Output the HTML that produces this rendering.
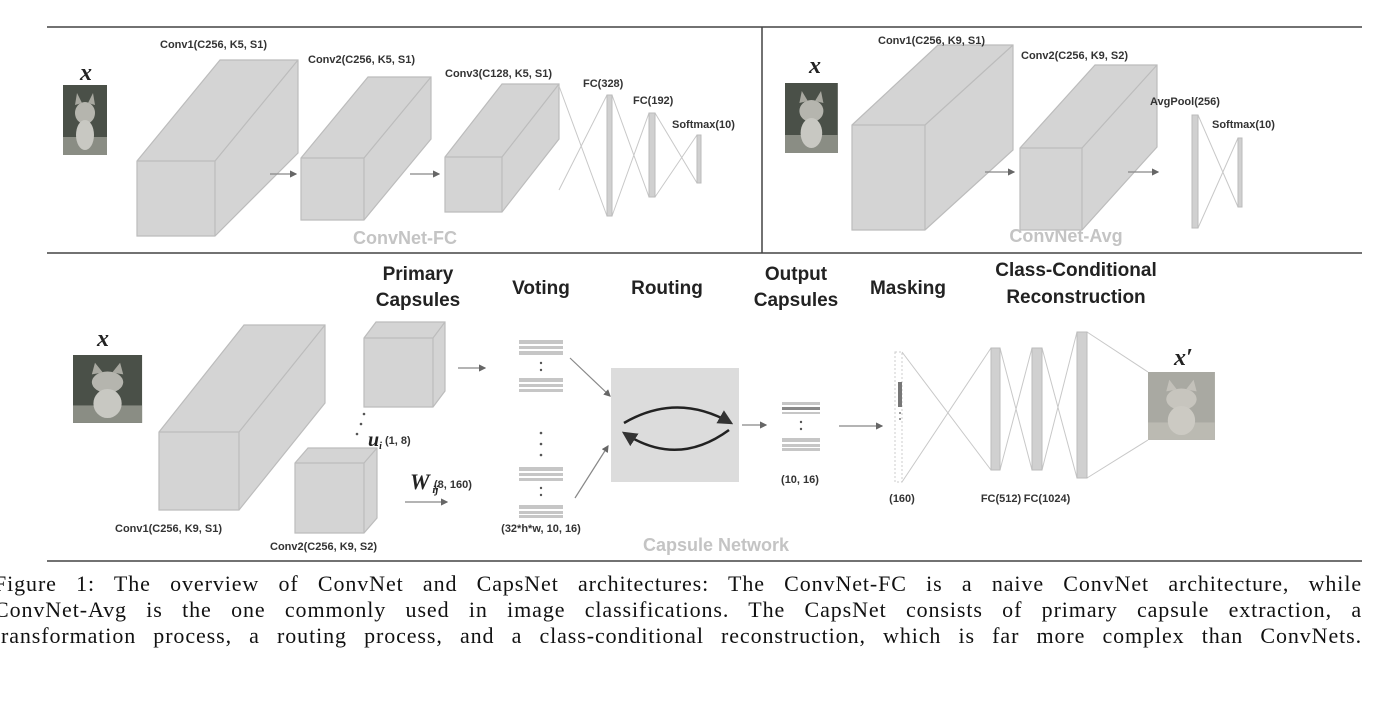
<!DOCTYPE html>
<html><head><meta charset="utf-8"><style>
body{margin:0;background:#fff;width:1400px;height:701px;overflow:hidden;position:relative}
svg{position:absolute;left:0;top:0}
.cap{position:absolute;left:-6px;width:1368px;font-family:"Liberation Serif",serif;font-size:22px;letter-spacing:0.9px;color:#111;text-align:justify;text-align-last:justify;white-space:nowrap;line-height:26px}
</style></head><body>
<svg width="1400" height="701" viewBox="0 0 1400 701" font-family="Liberation Sans, sans-serif">
<defs>
<marker id="ar" markerWidth="6" markerHeight="6" refX="5" refY="3" orient="auto"><path d="M0,0 L6,3 L0,6z" fill="#666"/></marker>
<marker id="ak" markerWidth="6" markerHeight="6" refX="5" refY="3" orient="auto"><path d="M0,0 L6,3 L0,6z" fill="#333"/></marker>
<g id="cat">
<rect x="0" y="0" width="44" height="70" fill="#4a5048"/>
<rect x="0" y="52" width="44" height="18" fill="#8a8d84"/>
<ellipse cx="22" cy="28" rx="10" ry="11" fill="#b5b5ae"/>
<ellipse cx="22" cy="50" rx="9" ry="15" fill="#c8c8c2"/>
<path d="M12,20 L14,8 L19,18 M25,18 L30,8 L32,20" fill="#a8a8a0"/>
</g>
</defs>
<line x1="47" y1="27" x2="1362" y2="27" stroke="#444" stroke-width="1.5"/>
<line x1="47" y1="253" x2="1362" y2="253" stroke="#444" stroke-width="1.5"/>
<line x1="47" y1="561" x2="1362" y2="561" stroke="#444" stroke-width="1.5"/>
<line x1="762" y1="27" x2="762" y2="253" stroke="#444" stroke-width="1.5"/>

<g fill="#d4d4d4" stroke="#bcbcbc" stroke-width="1.2">
<path d="M137,161 L220,60 L298,60 L298,153 L215,236 L137,236Z"/><path d="M137,161 L215,161 L298,60 M215,161 L215,236" fill="none"/>
<path d="M301,158 L368,77 L431,77 L431,139 L364,220 L301,220Z"/><path d="M301,158 L364,158 L431,77 M364,158 L364,220" fill="none"/>
<path d="M445,157 L502,84 L559,84 L559,139 L502,212 L445,212Z"/><path d="M445,157 L502,157 L559,84 M502,157 L502,212" fill="none"/>
<path d="M852,125 L938,45 L1013,45 L1013,150 L925,230 L852,230Z"/><path d="M852,125 L925,125 L1013,45 M925,125 L925,230" fill="none"/>
<path d="M1020,148 L1095,65 L1157,65 L1157,147 L1082,230 L1020,230Z"/><path d="M1020,148 L1082,148 L1157,65 M1082,148 L1082,230" fill="none"/>
<path d="M159,432 L244,325 L325,325 L325,403 L239,510 L159,510Z"/><path d="M159,432 L239,432 L325,325 M239,432 L239,510" fill="none"/>
<path d="M364,338 L376,322 L445,322 L445,391 L433,407 L364,407Z"/><path d="M364,338 L433,338 L445,322 M433,338 L433,407" fill="none"/>
<path d="M295,463 L308,448 L377,448 L377,518 L364,533 L295,533Z"/><path d="M295,463 L364,463 L377,448 M364,463 L364,533" fill="none"/>
</g>

<g stroke="#c8c8c8" stroke-width="1" fill="none">
<path d="M559,86 L607,216 M559,190 L607,95 M612,95 L649,197 M612,216 L649,113 M655,113 L697,183 M655,197 L697,135"/>
<path d="M1198,115 L1238,207 M1198,228 L1238,138"/>
<path d="M902,352 L991,470 M902,482 L991,348 M1000,348 L1032,470 M1000,470 L1032,348 M1042,348 L1077,478 M1042,470 L1077,332 M1087,332 L1148,372 M1087,478 L1148,440"/>
</g>
<g fill="#d0d0d0" stroke="#bbb">
<rect x="607" y="95" width="5" height="121"/><rect x="649" y="113" width="6" height="84"/><rect x="697" y="135" width="4" height="48"/>
<rect x="1192" y="115" width="6" height="113"/><rect x="1238" y="138" width="4" height="69"/>
<rect x="991" y="348" width="9" height="122"/><rect x="1032" y="348" width="10" height="122"/><rect x="1077" y="332" width="10" height="146"/>
</g>
<rect x="895" y="352" width="7" height="130" fill="none" stroke="#ccc" stroke-dasharray="2,2"/>
<rect x="898" y="382" width="4" height="25" fill="#777"/>
<circle cx="900" cy="413" r="1" fill="#777"/><circle cx="900" cy="419" r="1" fill="#777"/>

<g stroke="#888" stroke-width="1.2" marker-end="url(#ar)">
<line x1="270" y1="174" x2="296" y2="174"/><line x1="410" y1="174" x2="439" y2="174"/>
<line x1="985" y1="172" x2="1014" y2="172"/><line x1="1128" y1="172" x2="1158" y2="172"/>
<line x1="458" y1="368" x2="485" y2="368"/><line x1="405" y1="502" x2="447" y2="502"/>
<line x1="570" y1="358" x2="610" y2="396"/><line x1="575" y1="498" x2="608" y2="446"/>
<line x1="742" y1="425" x2="766" y2="425"/><line x1="839" y1="426" x2="882" y2="426"/>
</g>

<use href="#cat" transform="translate(63,85)"/>
<use href="#cat" transform="translate(785,83) scale(1.2,1)"/>
<use href="#cat" transform="translate(73,355) scale(1.57,0.97)"/>
<g transform="translate(1148,372) scale(1.52,0.97)" opacity="0.55"><use href="#cat"/></g>
<rect x="1148" y="372" width="67" height="68" fill="#b8b4aa" opacity="0.5"/>

<g fill="#c6c6c6">
<rect x="519" y="340" width="44" height="4"/><rect x="519" y="346" width="44" height="3"/><rect x="519" y="351" width="44" height="4"/>
<rect x="519" y="378" width="44" height="4"/><rect x="519" y="384" width="44" height="3"/><rect x="519" y="389" width="44" height="3"/>
<rect x="519" y="467" width="44" height="4"/><rect x="519" y="473" width="44" height="3"/><rect x="519" y="478" width="44" height="3"/>
<rect x="519" y="505" width="44" height="4"/><rect x="519" y="511" width="44" height="3"/><rect x="519" y="515" width="44" height="3"/>
<rect x="782" y="402" width="38" height="3"/><rect x="782" y="407" width="38" height="3" fill="#888"/><rect x="782" y="412" width="38" height="2"/>
<rect x="782" y="438" width="38" height="4"/><rect x="782" y="444" width="38" height="3"/><rect x="782" y="448" width="38" height="3"/>
</g>
<g fill="#555">
<circle cx="541" cy="363" r="1.2"/><circle cx="541" cy="370" r="1.2"/>
<circle cx="541" cy="433" r="1.3"/><circle cx="541" cy="444" r="1.3"/><circle cx="541" cy="455" r="1.3"/>
<circle cx="541" cy="488" r="1.2"/><circle cx="541" cy="495" r="1.2"/>
<circle cx="801" cy="422" r="1.2"/><circle cx="801" cy="429" r="1.2"/>
<circle cx="364" cy="414" r="1.3"/><circle cx="361" cy="424" r="1.3"/><circle cx="357" cy="434" r="1.3"/>
</g>
<rect x="611" y="368" width="128" height="114" fill="#dcdcdc"/>
<path d="M624,423 Q677,392 731,423" fill="none" stroke="#222" stroke-width="2.5" marker-end="url(#ak)"/>
<path d="M729,430 Q677,468 624,433" fill="none" stroke="#222" stroke-width="2.5" marker-end="url(#ak)"/>

<g font-size="11" font-weight="bold" fill="#333">
<text x="160" y="48">Conv1(C256, K5, S1)</text>
<text x="308" y="63">Conv2(C256, K5, S1)</text>
<text x="445" y="77">Conv3(C128, K5, S1)</text>
<text x="583" y="87">FC(328)</text><text x="633" y="104">FC(192)</text><text x="672" y="128">Softmax(10)</text>
<text x="878" y="44">Conv1(C256, K9, S1)</text><text x="1021" y="59">Conv2(C256, K9, S2)</text>
<text x="1150" y="105">AvgPool(256)</text><text x="1212" y="128">Softmax(10)</text>
<text x="115" y="532">Conv1(C256, K9, S1)</text><text x="270" y="550">Conv2(C256, K9, S2)</text>
<text x="541" y="532" text-anchor="middle">(32*h*w, 10, 16)</text>
<text x="800" y="483" text-anchor="middle">(10, 16)</text>
<text x="902" y="502" text-anchor="middle">(160)</text>
<text x="1001" y="502" text-anchor="middle">FC(512)</text><text x="1047" y="502" text-anchor="middle">FC(1024)</text>
<text x="385" y="444">(1, 8)</text><text x="434" y="488">(8, 160)</text>
</g>
<g font-family="Liberation Serif, serif" font-style="italic" font-weight="bold" fill="#222">
<text x="80" y="80" font-size="24">x</text><text x="809" y="73" font-size="24">x</text><text x="97" y="346" font-size="24">x</text>
<text x="1174" y="365" font-size="24">x′</text>
<text x="368" y="446" font-size="20">u<tspan font-size="10" dy="3">i</tspan></text>
<text x="410" y="489" font-size="22">W<tspan font-size="11" dy="4"> ij</tspan></text>
</g>
<g font-size="18" font-weight="bold" fill="#c4c4c4" text-anchor="middle">
<text x="405" y="244">ConvNet-FC</text><text x="1066" y="242">ConvNet-Avg</text><text x="716" y="551">Capsule Network</text>
</g>
<g font-size="19" font-weight="bold" fill="#222" text-anchor="middle">
<text x="418" y="280">Primary</text><text x="418" y="306">Capsules</text>
<text x="541" y="294">Voting</text><text x="667" y="294">Routing</text>
<text x="796" y="280">Output</text><text x="796" y="306">Capsules</text>
<text x="908" y="294">Masking</text>
<text x="1076" y="276">Class-Conditional</text><text x="1076" y="303">Reconstruction</text>
</g>
</svg>
<div class="cap" style="top:571px">Figure 1: The overview of ConvNet and CapsNet architectures: The ConvNet-FC is a naive ConvNet architecture, while</div>
<div class="cap" style="top:597px">ConvNet-Avg is the one commonly used in image classifications. The CapsNet consists of primary capsule extraction, a</div>
<div class="cap" style="top:623px">transformation process, a routing process, and a class-conditional reconstruction, which is far more complex than ConvNets.</div>
</body></html>
